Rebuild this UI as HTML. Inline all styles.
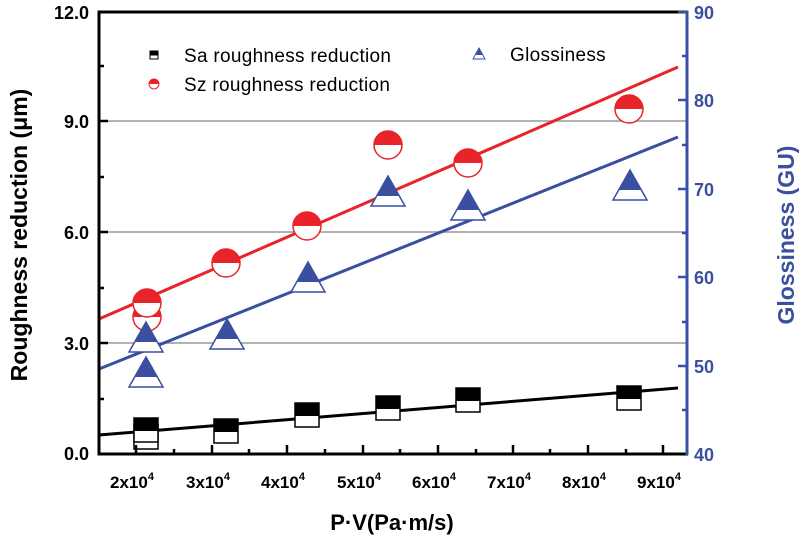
<!DOCTYPE html>
<html><head><meta charset="utf-8"><style>
body{margin:0;background:#fff}
svg{display:block;font-family:"Liberation Sans",Arial,sans-serif}
</style></head><body>
<svg width="800" height="539" viewBox="0 0 800 539" xmlns="http://www.w3.org/2000/svg">
<defs>
<clipPath id="up"><rect x="-30" y="-30" width="60" height="30"/></clipPath>
<g id="sq"><rect x="-12" y="-12" width="24" height="24" fill="#fff" stroke="#000" stroke-width="1.5"/><rect x="-12" y="-12" width="24" height="13" fill="#000"/></g>
<g id="ci"><circle r="14" fill="#fff" stroke="#e8242a" stroke-width="1.5"/><circle r="14" fill="#e8242a" clip-path="url(#up)"/></g>
<g id="tr"><polygon points="0,-19 17,11 -17,11" fill="#fff" stroke="#3a4fa0" stroke-width="1.5"/><polygon points="0,-19 11.3,1 -11.3,1" fill="#3a4fa0"/></g>
</defs>
<!-- grid -->
<g stroke="#999" stroke-width="1.5">
<line x1="99" x2="686" y1="121" y2="121"/>
<line x1="99" x2="686" y1="232" y2="232"/>
<line x1="99" x2="686" y1="343" y2="343"/>
</g>
<!-- fit lines -->
<line x1="99" y1="319" x2="678" y2="67" stroke="#e8242a" stroke-width="3"/>
<line x1="99" y1="369" x2="678" y2="137" stroke="#3a4fa0" stroke-width="3"/>
<line x1="99" y1="435" x2="678" y2="388" stroke="#000" stroke-width="3"/>
<!-- squares -->
<use href="#sq" x="146" y="437"/>
<use href="#sq" x="146" y="430"/>
<use href="#sq" x="226" y="431"/>
<use href="#sq" x="307" y="415"/>
<use href="#sq" x="388" y="408"/>
<use href="#sq" x="468" y="400"/>
<use href="#sq" x="629" y="398"/>
<!-- circles -->
<use href="#ci" x="147" y="317"/>
<use href="#ci" x="147" y="303"/>
<use href="#ci" x="226" y="263"/>
<use href="#ci" x="307" y="226"/>
<use href="#ci" x="388" y="145"/>
<use href="#ci" x="468" y="163"/>
<use href="#ci" x="629" y="109"/>
<!-- triangles -->
<use href="#tr" x="146" y="376"/>
<use href="#tr" x="146" y="341"/>
<use href="#tr" x="227" y="338"/>
<use href="#tr" x="308" y="281"/>
<use href="#tr" x="388" y="195"/>
<use href="#tr" x="468" y="209"/>
<use href="#tr" x="630" y="189"/>
<!-- axes -->
<line x1="99" y1="12" x2="688" y2="12" stroke="#000" stroke-width="3"/>
<line x1="99" y1="10.5" x2="99" y2="455" stroke="#000" stroke-width="3"/>
<line x1="97.5" y1="454" x2="688" y2="454" stroke="#000" stroke-width="3"/>
<line x1="687" y1="10.5" x2="687" y2="455" stroke="#3a4fa0" stroke-width="3"/>
<g stroke="#000" stroke-width="2.5">
<line x1="99" x2="108" y1="121" y2="121"/><line x1="99" x2="108" y1="232" y2="232"/><line x1="99" x2="108" y1="343" y2="343"/>
<line x1="99" x2="104" y1="66" y2="66"/><line x1="99" x2="104" y1="177" y2="177"/><line x1="99" x2="104" y1="288" y2="288"/><line x1="99" x2="104" y1="399" y2="399"/>
<line x1="136" x2="136" y1="454" y2="445"/><line x1="212" x2="212" y1="454" y2="445"/><line x1="287" x2="287" y1="454" y2="445"/><line x1="363" x2="363" y1="454" y2="445"/><line x1="438" x2="438" y1="454" y2="445"/><line x1="513" x2="513" y1="454" y2="445"/><line x1="588" x2="588" y1="454" y2="445"/><line x1="663" x2="663" y1="454" y2="445"/>
<line x1="174" x2="174" y1="454" y2="449"/><line x1="249" x2="249" y1="454" y2="449"/><line x1="325" x2="325" y1="454" y2="449"/><line x1="400" x2="400" y1="454" y2="449"/><line x1="476" x2="476" y1="454" y2="449"/><line x1="550" x2="550" y1="454" y2="449"/><line x1="626" x2="626" y1="454" y2="449"/>
</g>
<g stroke="#3a4fa0" stroke-width="2.5">
<line x1="687" x2="678" y1="12" y2="12"/><line x1="687" x2="678" y1="100" y2="100"/><line x1="687" x2="678" y1="189" y2="189"/><line x1="687" x2="678" y1="277" y2="277"/><line x1="687" x2="678" y1="366" y2="366"/>
<line x1="687" x2="682" y1="56" y2="56"/><line x1="687" x2="682" y1="145" y2="145"/><line x1="687" x2="682" y1="233" y2="233"/><line x1="687" x2="682" y1="322" y2="322"/><line x1="687" x2="682" y1="410" y2="410"/>
</g>
<!-- tick labels -->
<g font-size="18" font-weight="bold" text-anchor="end" fill="#000">
<text x="89" y="19">12.0</text><text x="89" y="128">9.0</text><text x="89" y="239">6.0</text><text x="89" y="350">3.0</text><text x="89" y="460">0.0</text>
</g>
<g font-size="18" font-weight="bold" fill="#3a4fa0">
<text x="694" y="19">90</text><text x="694" y="107">80</text><text x="694" y="196">70</text><text x="694" y="284">60</text><text x="694" y="373">50</text><text x="694" y="461">40</text>
</g>
<g font-size="17" font-weight="bold" text-anchor="middle" fill="#000">
<text x="132" y="488">2x10<tspan font-size="11" dy="-8">4</tspan></text>
<text x="208" y="488">3x10<tspan font-size="11" dy="-8">4</tspan></text>
<text x="283" y="488">4x10<tspan font-size="11" dy="-8">4</tspan></text>
<text x="359" y="488">5x10<tspan font-size="11" dy="-8">4</tspan></text>
<text x="434" y="488">6x10<tspan font-size="11" dy="-8">4</tspan></text>
<text x="509" y="488">7x10<tspan font-size="11" dy="-8">4</tspan></text>
<text x="584" y="488">8x10<tspan font-size="11" dy="-8">4</tspan></text>
<text x="659" y="488">9x10<tspan font-size="11" dy="-8">4</tspan></text>
</g>
<text x="392" y="530" font-size="22" font-weight="bold" text-anchor="middle">P·V(Pa·m/s)</text>
<text transform="translate(27,235) rotate(-90)" font-size="23" font-weight="bold" text-anchor="middle">Roughness reduction (μm)</text>
<text transform="translate(794,235) rotate(-90)" font-size="23" font-weight="bold" text-anchor="middle" fill="#3a4fa0">Glossiness (GU)</text>
<!-- legend -->
<g transform="translate(154,55)"><rect x="-4" y="-4" width="8" height="8" fill="#fff" stroke="#000" stroke-width="1"/><rect x="-4" y="-4" width="8" height="4.5" fill="#000"/></g>
<text x="184" y="62" font-size="19" letter-spacing="0.3">Sa roughness reduction</text>
<g transform="translate(154,84)"><circle r="5" fill="#fff" stroke="#e8242a" stroke-width="1"/><circle r="5" fill="#e8242a" clip-path="url(#up)"/></g>
<text x="184" y="91" font-size="19" letter-spacing="0.3">Sz roughness reduction</text>
<g transform="translate(479,54)"><polygon points="0,-6 6,5 -6,5" fill="#fff" stroke="#3a4fa0" stroke-width="1"/><polygon points="0,-6 4,1 -4,1" fill="#3a4fa0"/></g>
<text x="510" y="61" font-size="19" letter-spacing="0.3">Glossiness</text>
</svg>
</body></html>
